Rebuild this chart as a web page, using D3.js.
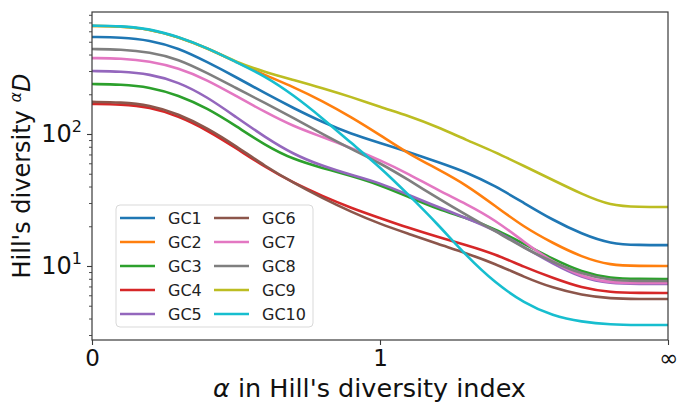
<!DOCTYPE html>
<html>
<head>
<meta charset="utf-8">
<script src="https://cdn.jsdelivr.net/npm/d3@7/dist/d3.min.js"></script>
<style>
  html, body { margin: 0; padding: 0; background: #fff; }
  svg { display: block; font-family: "DejaVu Sans", sans-serif; }
</style>
</head>
<body>
<svg id="chart" width="686" height="408"></svg>
<script>
// Transformed alpha positions: 0 .. 1 linear, then 1 .. infinity compressed into 1 .. 2
const alphaPos = [0, 0.1, 0.2, 0.3, 0.4, 0.5, 0.6, 0.7, 0.8, 0.9, 1.0,
                  1.1, 1.2, 1.3, 1.4, 1.5, 1.6, 1.7, 1.8, 1.9, 2.0];
const xTickPos = [0, 1, 2];
const xTickLabels = ["0", "1", "\u221E"];
const yTickValues = [10, 100];
const yTickExps = ["1", "2"];

const seriesNames = ["GC1", "GC2", "GC3", "GC4", "GC5", "GC6", "GC7", "GC8", "GC9", "GC10"];
const seriesColors = ["#1f77b4", "#ff7f0e", "#2ca02c", "#d62728", "#9467bd",
                      "#8c564b", "#e377c2", "#7f7f7f", "#bcbd22", "#17becf"];

const GC1  = [543, 540, 515, 448, 351, 270, 204, 157, 123, 100, 85.5, 73, 61.4, 51.5, 40.4, 30.0, 22.3, 17.5, 14.7, 14.4, 14.4];
const GC2  = [658, 655, 624, 543, 448, 351, 280, 227, 178, 134.5, 98.3, 70.6, 54.3, 41.1, 28.5, 19.7, 14.9, 11.7, 10.1, 10.0, 10.0];
const GC3  = [239, 238, 227, 197, 157, 115, 82.5, 64, 55.3, 48.1, 41.1, 33.3, 27.0, 23.1, 19.1, 14.7, 11.3, 9.0, 8.05, 7.97, 7.97];
const GC4  = [169, 168, 160, 137, 107, 78.3, 56.2, 42.6, 33.9, 27.5, 23.1, 19.4, 16.6, 14.4, 12.3, 9.83, 8.11, 6.81, 6.3, 6.25, 6.25];
const GC5  = [300, 298, 285, 248, 191, 134.5, 94.9, 70, 57.2, 48.9, 42.6, 34.5, 28.0, 23.1, 18.7, 13.9, 10.4, 8.11, 7.35, 7.3, 7.3];
const GC6  = [175, 174, 166, 142, 111, 81.1, 57.2, 42.6, 32.7, 25.7, 20.8, 17.5, 14.7, 12.5, 10.4, 8.26, 6.81, 6.03, 5.66, 5.62, 5.62];
const GC7  = [376, 374, 357, 316, 257, 194, 147, 114, 94.9, 78.3, 63.5, 49.8, 37.6, 29.5, 22.3, 15.2, 10.7, 8.26, 7.45, 7.43, 7.43];
const GC8  = [440, 438, 418, 370, 290, 223, 172, 132, 100, 77, 60.3, 44.8, 32.7, 24.3, 18.4, 13.7, 10.7, 8.7, 7.75, 7.7, 7.7];
const GC9  = [658, 655, 624, 543, 448, 351, 295, 257, 223, 191, 160, 137, 113, 90.1, 73.0, 57.2, 44.8, 35.1, 28.6, 28.0, 28.0];
const GC10 = [662, 659, 627, 545, 449, 351, 275, 197, 132, 85.5, 56.2, 34.5, 20.8, 11.9, 7.43, 5.24, 4.18, 3.77, 3.6, 3.57, 3.57];

const seriesValues = [GC1, GC2, GC3, GC4, GC5, GC6, GC7, GC8, GC9, GC10];

const svg = d3.select("#chart");
const margin = { left: 92, top: 12, right: 18, bottom: 68 };
const W = 686, H = 408;
const x0 = margin.left, x1 = W - margin.right, y0 = margin.top, y1 = H - margin.bottom;

const x = d3.scaleLinear().domain([0, 2]).range([x0, x1]);
const y = d3.scaleLog().domain([2.75, 840]).range([y1, y0]);

const axisColor = "#3a3a3a";

// clip
svg.append("defs").append("clipPath").attr("id", "clip")
  .append("rect").attr("x", x0).attr("y", y0).attr("width", x1 - x0).attr("height", y1 - y0);

// lines
const line = d3.line()
  .x((d, i) => x(alphaPos[i]))
  .y(d => y(d))
  .curve(d3.curveBasis);

const gLines = svg.append("g").attr("clip-path", "url(#clip)");
seriesValues.forEach((vals, k) => {
  gLines.append("path")
    .attr("d", line(vals))
    .attr("fill", "none")
    .attr("stroke", seriesColors[k])
    .attr("stroke-width", 2.6)
    .attr("stroke-linejoin", "round")
    .attr("stroke-linecap", "butt");
});

// X axis
const xAxis = d3.axisBottom(x).tickValues(xTickPos)
  .tickFormat((d, i) => xTickLabels[i]).tickSize(5).tickPadding(5);
const gx = svg.append("g").attr("transform", `translate(0,${y1})`).call(xAxis);
gx.select(".domain").remove();
gx.selectAll(".tick line").attr("stroke", axisColor).attr("stroke-width", 1.1);
gx.selectAll(".tick text").attr("fill", "#111").style("font-size", "23px")
  .style("font-family", "DejaVu Sans");

// Y axis major
const yAxis = d3.axisLeft(y).tickValues(yTickValues).tickFormat("").tickSize(5);
const gy = svg.append("g").attr("transform", `translate(${x0},0)`).call(yAxis);
gy.select(".domain").remove();
gy.selectAll(".tick line").attr("stroke", axisColor).attr("stroke-width", 1.1);

// Y minor
const minorVals = [3,4,5,6,7,8,9,20,30,40,50,60,70,80,90,200,300,400,500,600,700,800];
const yMinor = d3.axisLeft(y).tickValues(minorVals).tickFormat("").tickSize(3);
const gym = svg.append("g").attr("transform", `translate(${x0},0)`).call(yMinor);
gym.select(".domain").remove();
gym.selectAll(".tick line").attr("stroke", axisColor).attr("stroke-width", 0.9);

// Y tick labels 10^n
yTickValues.forEach((v, i) => {
  const t = svg.append("text")
    .attr("x", x0 - 10).attr("y", y(v) + 8)
    .attr("text-anchor", "end")
    .attr("fill", "#111")
    .style("font-size", "24px");
  t.append("tspan").text("10");
  t.append("tspan").attr("dy", -10).style("font-size", "16px").text(yTickExps[i]);
});

// frame
svg.append("rect").attr("x", x0).attr("y", y0).attr("width", x1 - x0).attr("height", y1 - y0)
  .attr("fill", "none").attr("stroke", axisColor).attr("stroke-width", 1.2);

// X label
const xl = svg.append("text")
  .attr("x", 213).attr("y", 397)
  .attr("text-anchor", "start").attr("fill", "#111").style("font-size", "25.5px");
xl.append("tspan").style("font-style", "italic").text("\u03B1");
xl.append("tspan").text(" in Hill's diversity index");

// Y label
const yl = svg.append("text")
  .attr("transform", `translate(30,${(y0 + y1) / 2}) rotate(-90)`)
  .attr("text-anchor", "middle").attr("fill", "#111").style("font-size", "24px");
yl.append("tspan").text("Hill's diversity ");
yl.append("tspan").attr("dy", -9).style("font-size", "16px").style("font-style", "italic").text("\u03B1");
yl.append("tspan").attr("dy", 9).style("font-style", "italic").text("D");

// Legend
const lgX = 116, lgY = 205, lgW = 197, lgH = 122;
const lg = svg.append("g");
lg.append("rect").attr("x", lgX).attr("y", lgY).attr("width", lgW).attr("height", lgH)
  .attr("rx", 4).attr("fill", "rgba(255,255,255,0.8)").attr("stroke", "#d9d9d9").attr("stroke-width", 1);
seriesNames.forEach((name, k) => {
  const col = Math.floor(k / 5), row = k % 5;
  const lx = lgX + 4 + col * 94;
  const ly = lgY + 13 + row * 24;
  lg.append("line").attr("x1", lx).attr("x2", lx + 35).attr("y1", ly).attr("y2", ly)
    .attr("stroke", seriesColors[k]).attr("stroke-width", 2.6);
  lg.append("text").attr("x", lx + 48).attr("y", ly + 6)
    .attr("fill", "#222").style("font-size", "16px").text(name);
});
</script>
</body>
</html>
